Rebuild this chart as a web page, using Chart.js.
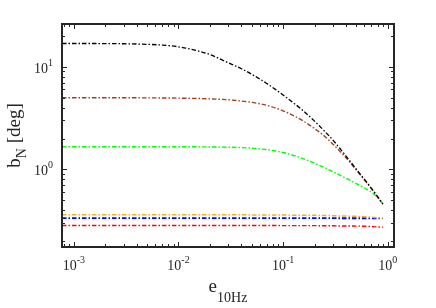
<!DOCTYPE html>
<html>
<head>
<meta charset="utf-8">
<script src="https://cdn.jsdelivr.net/npm/chart.js@4/dist/chart.umd.min.js"></script>
<style>
  html, body { margin: 0; padding: 0; background: #fff; }
  #wrap { width: 436px; height: 308px; }
</style>
</head>
<body>
<div id="wrap"><canvas id="grafico" width="436" height="308"></canvas></div>
<script>
// --- dados ---
const eValues = [7.7e-4, 0.001, 0.0015, 0.002, 0.003, 0.005, 0.007, 0.01, 0.015, 0.02, 0.03, 0.04, 0.05, 0.06, 0.07, 0.085, 0.1, 0.12, 0.15, 0.2, 0.25, 0.3, 0.35, 0.4, 0.5, 0.6, 0.7, 0.8, 0.9];

const bBlack  = [16.8, 16.8, 16.8, 16.75, 16.7, 16.5, 16.2, 15.6, 14.3, 13.1, 10.9, 9.55, 8.45, 7.57, 6.85, 5.98, 5.3, 4.6, 3.85, 2.95, 2.35, 1.93, 1.6, 1.35, 1.01, 0.80, 0.655, 0.545, 0.46];
const bBrown  = [4.98, 4.98, 4.98, 4.98, 4.98, 4.97, 4.96, 4.94, 4.9, 4.86, 4.76, 4.63, 4.5, 4.35, 4.2, 3.95, 3.72, 3.42, 3.03, 2.5, 2.1, 1.76, 1.5, 1.3, 0.99, 0.79, 0.65, 0.542, 0.46];
const bGreen  = [1.66, 1.66, 1.66, 1.66, 1.66, 1.66, 1.66, 1.66, 1.66, 1.655, 1.645, 1.63, 1.61, 1.585, 1.56, 1.51, 1.46, 1.39, 1.29, 1.15, 1.04, 0.95, 0.88, 0.82, 0.73, 0.66, 0.60, 0.535, 0.465];
const bOrange = [0.362, 0.362, 0.362, 0.362, 0.362, 0.362, 0.362, 0.362, 0.362, 0.362, 0.362, 0.362, 0.361, 0.361, 0.361, 0.360, 0.360, 0.359, 0.359, 0.358, 0.356, 0.355, 0.353, 0.352, 0.350, 0.347, 0.343, 0.340, 0.337];
const bBlue   = [0.336, 0.336, 0.336, 0.336, 0.336, 0.336, 0.336, 0.336, 0.336, 0.336, 0.336, 0.336, 0.336, 0.336, 0.336, 0.336, 0.336, 0.336, 0.336, 0.336, 0.336, 0.336, 0.335, 0.335, 0.335, 0.335, 0.334, 0.334, 0.334];
const bRed    = [0.285, 0.285, 0.285, 0.285, 0.285, 0.285, 0.285, 0.285, 0.285, 0.285, 0.285, 0.285, 0.285, 0.285, 0.285, 0.285, 0.284, 0.284, 0.284, 0.284, 0.283, 0.283, 0.282, 0.282, 0.281, 0.280, 0.278, 0.276, 0.274];

const xMajorTicks = [1e-3, 1e-2, 1e-1, 1];
const yMajorTicks = [1, 10];
const xRange = [7.7e-4, 1.15];
const yRange = [0.176, 26];

// --- auxiliares ---
const fonte = '"Liberation Serif", "Times New Roman", serif';
const corEixo = '#262626';

// ticks menores: 2..9 vezes cada década
const menores = (faixa) => {
    const lista = [];
    for (let e = Math.floor(Math.log10(faixa[0])); e <= Math.ceil(Math.log10(faixa[1])); e++) {
        for (let m = 1; m <= 9; m++) {
            const v = m * Math.pow(10, e);
            if (v > faixa[0] && v < faixa[1]) lista.push(v);
        }
    }
    return lista;
};

const serie = (dados, cor, largura) => ({
    data: eValues.map((x, i) => ({ x: x, y: dados[i] })),
    borderColor: cor,
    borderWidth: largura,
    borderDash: [4.5, 2, 1.5, 2],
    pointRadius: 0,
    fill: false,
    cubicInterpolationMode: 'monotone'
});

// desenha "10^n" com expoente elevado
function potencia(ctx, exp, x, y, alinhar) {
    ctx.font = '14px ' + fonte;
    const wBase = ctx.measureText('10').width;
    ctx.font = '10px ' + fonte;
    const wExp = ctx.measureText(String(exp)).width;
    const total = wBase + wExp;
    let x0 = alinhar === 'right' ? x - total : x - total / 2;
    ctx.textAlign = 'left';
    ctx.textBaseline = 'alphabetic';
    ctx.font = '14px ' + fonte;
    ctx.fillText('10', x0, y);
    ctx.font = '10px ' + fonte;
    ctx.fillText(String(exp), x0 + wBase, y - 7);
}

const eixosMatlab = {
    id: 'eixosMatlab',
    afterDatasetsDraw(chart) {
        const { ctx, chartArea: a, scales } = chart;
        const sx = scales.x, sy = scales.y;
        ctx.save();
        ctx.fillStyle = corEixo;
        ctx.strokeStyle = corEixo;

        // ticks para dentro nos quatro lados
        ctx.lineWidth = 1;
        ctx.beginPath();
        const xt = xMajorTicks.map(v => [v, 5]).concat(menores(xRange).filter(v => !xMajorTicks.includes(v)).map(v => [v, 3]));
        xt.forEach(([v, len]) => {
            const px = Math.round(sx.getPixelForValue(v)) + 0.5;
            if (px <= a.left || px >= a.right) return;
            ctx.moveTo(px, a.bottom); ctx.lineTo(px, a.bottom - len);
            ctx.moveTo(px, a.top); ctx.lineTo(px, a.top + len);
        });
        const yt = yMajorTicks.map(v => [v, 5]).concat(menores(yRange).filter(v => !yMajorTicks.includes(v)).map(v => [v, 3]));
        yt.forEach(([v, len]) => {
            const py = Math.round(sy.getPixelForValue(v)) + 0.5;
            if (py <= a.top || py >= a.bottom) return;
            ctx.moveTo(a.left, py); ctx.lineTo(a.left + len, py);
            ctx.moveTo(a.right, py); ctx.lineTo(a.right - len, py);
        });
        ctx.stroke();

        // caixa
        ctx.lineWidth = 2;
        ctx.strokeRect(a.left, a.top, a.right - a.left, a.bottom - a.top);

        // rótulos dos ticks
        xMajorTicks.forEach(v => {
            potencia(ctx, Math.round(Math.log10(v)), sx.getPixelForValue(v), a.bottom + 23, 'center');
        });
        yMajorTicks.forEach(v => {
            potencia(ctx, Math.round(Math.log10(v)), a.left - 9, sy.getPixelForValue(v) + 6, 'right');
        });

        // título do eixo x: e_10Hz
        ctx.textAlign = 'left';
        ctx.font = '19px ' + fonte;
        const we = ctx.measureText('e').width;
        ctx.font = '14px ' + fonte;
        const ws = ctx.measureText('10Hz').width;
        const cx = (a.left + a.right) / 2;
        let x0 = cx - (we + ws) / 2;
        ctx.font = '19px ' + fonte;
        ctx.fillText('e', x0, 292);
        ctx.font = '14px ' + fonte;
        ctx.fillText('10Hz', x0 + we, 302);

        // título do eixo y: b_N [deg]
        ctx.save();
        ctx.translate(20, (a.top + a.bottom) / 2);
        ctx.rotate(-Math.PI / 2);
        ctx.font = '19px ' + fonte;
        const wb = ctx.measureText('b').width;
        const wr = ctx.measureText(' [deg]').width;
        ctx.font = '14px ' + fonte;
        const wn = ctx.measureText('N').width;
        let y0 = -(wb + wn + wr) / 2;
        ctx.font = '19px ' + fonte;
        ctx.fillText('b', y0, 0);
        ctx.font = '14px ' + fonte;
        ctx.fillText('N', y0 + wb, 6);
        ctx.font = '19px ' + fonte;
        ctx.fillText(' [deg]', y0 + wb + wn, 0);
        ctx.restore();

        ctx.restore();
    }
};

new Chart(document.getElementById('grafico').getContext('2d'), {
    type: 'line',
    data: {
        datasets: [
            serie(bBlack, '#000000', 1.3),
            serie(bBrown, '#a0401a', 1.4),
            serie(bGreen, '#00ff00', 1.4),
            serie(bOrange, '#edb120', 1.5),
            serie(bBlue, '#0000ff', 1.8),
            serie(bRed, '#ff0000', 1.4)
        ]
    },
    options: {
        responsive: false,
        animation: false,
        devicePixelRatio: 1,
        layout: { padding: { top: 24, right: 42, left: 0, bottom: 0 } },
        plugins: { legend: { display: false }, tooltip: { enabled: false } },
        scales: {
            x: {
                type: 'logarithmic',
                min: xRange[0],
                max: xRange[1],
                ticks: { display: false },
                grid: { display: false },
                border: { display: false },
                afterFit: (s) => { s.height = 61; }
            },
            y: {
                type: 'logarithmic',
                min: yRange[0],
                max: yRange[1],
                ticks: { display: false },
                grid: { display: false },
                border: { display: false },
                afterFit: (s) => { s.width = 62; }
            }
        }
    },
    plugins: [eixosMatlab]
});
</script>
</body>
</html>
